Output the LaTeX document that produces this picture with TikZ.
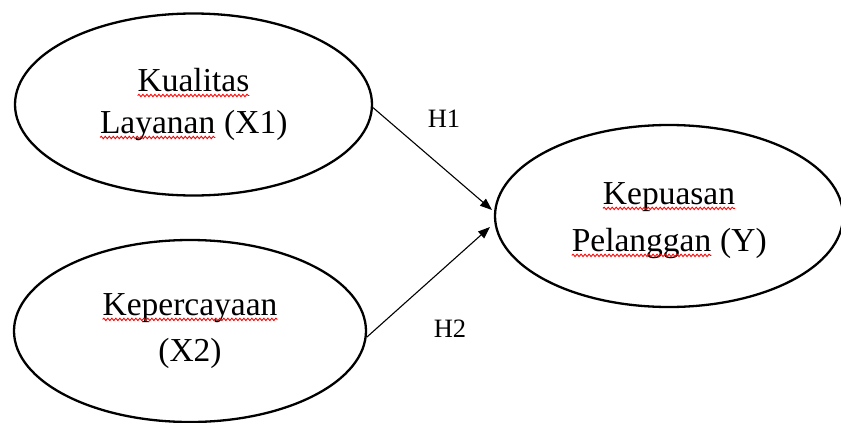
\documentclass[tikz,border=0pt]{standalone}
\usepackage{fontspec}
\setmainfont{Liberation Serif}
\usetikzlibrary{shapes.geometric,arrows.meta,decorations.pathmorphing}

% red wavy spell-check underline beneath one word
\newcommand\spellchk[1]{\tikz[baseline=(sw.base), x=1pt, y=1pt]{%
  \node[shape=rectangle, draw=none, minimum width=0pt, minimum height=0pt,
        inner sep=0pt, outer sep=0pt, anchor=base, align=left] (sw) {#1};
  \draw[red, line width=0.9pt, decorate,
        decoration={snake, amplitude=1.2pt, segment length=4pt}]
    ([yshift=-4pt]sw.base west) -- ([yshift=-4pt]sw.base east);}}

\tikzset{
  construct/.style={shape=ellipse, draw=black, line width=2.3pt, inner sep=0pt,
    minimum height=182pt, align=center, font=\fontsize{33.5}{44}\selectfont},
  path arrow/.style={draw=black, line width=1.1pt, -{Triangle[length=12pt,width=9pt]}},
  hyp/.style={font=\fontsize{26.5}{30}\selectfont, inner sep=0pt, anchor=base}
}

\begin{document}
\begin{tikzpicture}[x=1pt, y=-1pt]
  \useasboundingbox (0,0) rectangle (841,423);

  \node[construct, minimum width=357pt] (x1) at (193.5,104.5)
    {\spellchk{Kualitas}\\[-2pt]\spellchk{Layanan} (X1)};
  \node[construct, minimum width=352pt] (x2) at (190,331)
    {\spellchk{Kepercayaan}\\[2pt](X2)};
  \node[construct, minimum width=348pt] (y) at (669,216)
    {\rule{0pt}{31pt}\spellchk{Kepuasan}\\[3pt]\spellchk{Pelanggan} (Y)};

  \coordinate (tip1) at (492,210);
  \coordinate (tip2) at (490,227);

  \draw[path arrow] (x1.-1) -- (tip1);
  \draw[path arrow] (x2.-2.5) -- (tip2);

  \node[hyp] (h1) at (444,127) {H1};
  \node[hyp] (h2) at (450,337) {H2};
\end{tikzpicture}
\end{document}
